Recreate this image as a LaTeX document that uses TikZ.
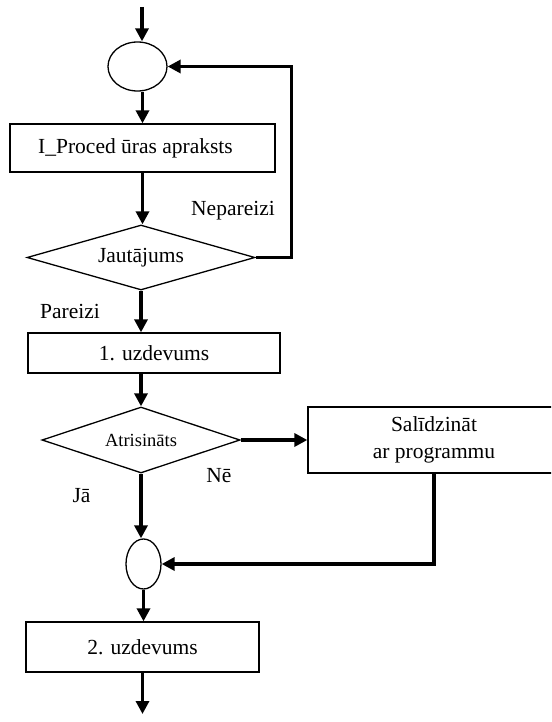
\documentclass[tikz,border=0pt]{standalone}
\usepackage{fontspec}
\setmainfont{Liberation Serif}
\usetikzlibrary{shapes.geometric,arrows.meta,calc}
\tikzset{
  boxnode/.style={draw, line width=1.3pt, rectangle, inner sep=0pt, font=\fontsize{21.5}{27}\selectfont, align=center},
  decnode/.style={draw, line width=1.3pt, diamond, inner sep=0pt, font=\fontsize{21.5}{27}\selectfont},
  joinnode/.style={draw, line width=1.3pt, ellipse, inner sep=0pt},
  lbl/.style={inner sep=0pt, font=\fontsize{21.5}{27}\selectfont},
  arr/.style={line width=3.2pt, -{Triangle[length=13pt,width=13pt]}}
}
\begin{document}
\begin{tikzpicture}[x=1pt,y=-1pt]
\clip (0,0) rectangle (551,722);
\fill[white] (0,0) rectangle (551,722);
% nodes
\node[joinnode, minimum width=59pt, minimum height=49pt] (c1) at (137.5,66.5) {};
\node[boxnode, minimum width=265pt, minimum height=48pt] (b1) at (142.5,148) {I\_Proced ūras apraksts\hspace*{14pt}};
\node[decnode, aspect=3.5, minimum width=228pt, minimum height=65pt] (d1) at (141,257.5) {Jautājums};
\node[boxnode, minimum width=252pt, minimum height=40pt] (b2) at (154,353) {1. uzdevums};
\node[decnode, aspect=3.0, minimum width=198pt, minimum height=66pt, font=\fontsize{18.5}{22}\selectfont] (d2) at (141,440) {Atrisināts};
\node[boxnode, minimum width=252pt, minimum height=66pt] (b3) at (434,440) {Salīdzināt\\ar programmu};
\node[joinnode, minimum width=35pt, minimum height=50pt] (c2) at (143.5,564) {};
\node[boxnode, minimum width=233pt, minimum height=50pt] (b4) at (142.5,647) {2. uzdevums};
% labels
\node[lbl] (lnep) at (233,211) {Nepareizi};
\node[lbl] (lpar) at (70,311) {Pareizi};
\node[lbl] (lne) at (219,476) {Nē};
\node[lbl] (lja) at (81.5,496) {Jā};
% free ends
\coordinate (start) at (142,7);
\coordinate (finish) at (142.5,714);
% connectors
\draw[arr] (start) -- (start |- c1.north);
\draw[arr] (b1.north |- c1.south) -- (b1.north);
\draw[arr] (b1.south) -- (b1.south |- d1.north);
\draw[arr] (d1.east) -- ++(35.5,0) |- (c1.east);
\draw[arr] (d1.south) -- (d1.south |- b2.north);
\draw[arr] (b2.south -| d2.north) -- (d2.north);
\draw[arr] (d2.east) -- (b3.west);
\draw[arr] (d2.south) -- (d2.south |- c2.north);
\draw[arr] (b3.south) |- (c2.east);
\draw[arr] (c2.south) -- (c2.south |- b4.north);
\draw[arr] (b4.south) -- (finish);
\end{tikzpicture}
\end{document}
